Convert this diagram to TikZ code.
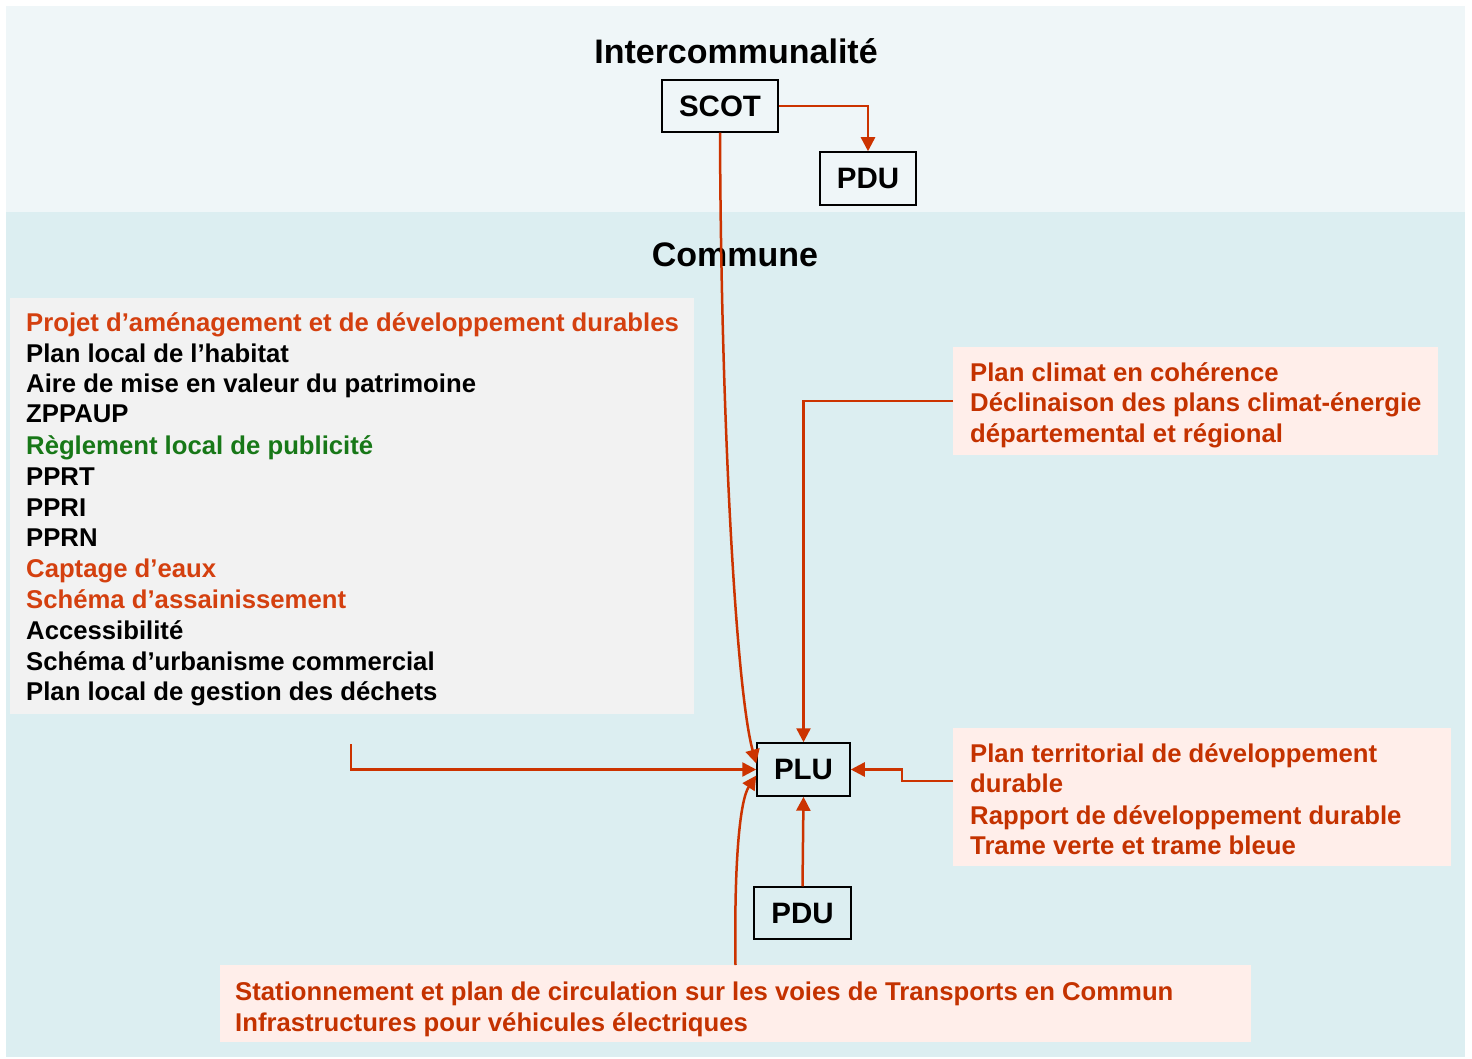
\documentclass[tikz,border=0pt]{standalone}
\usepackage{fontspec}
\setmainfont{Liberation Sans}
\usetikzlibrary{arrows.meta,calc}
\definecolor{bgtop}{HTML}{EFF6F8}
\definecolor{bgcom}{HTML}{DCEEF1}
\definecolor{graybox}{HTML}{F2F2F2}
\definecolor{pinkbox}{HTML}{FFEEEA}
\definecolor{redA}{HTML}{CC3300}
\definecolor{redT}{HTML}{C43200}
\definecolor{orangeT}{HTML}{D4400F}
\definecolor{greenT}{HTML}{187818}
\begin{document}
\begin{tikzpicture}[x=1pt,y=-1pt,
  box/.style={draw=black,line width=1.5pt,inner sep=0pt,font=\fontsize{29.5}{34}\selectfont\bfseries},
  panel/.style={inner sep=0pt,outer sep=0pt},
  conn/.style={draw=redA,line width=2.5pt,-{Triangle[length=14pt,width=14pt]}},
  lst/.style={anchor=base west,inner sep=0pt,font=\fontsize{25.7}{30}\selectfont\bfseries},
  rtxt/.style={anchor=base west,inner sep=0pt,text=redT,font=\fontsize{25.7}{30}\selectfont\bfseries},
  titlet/.style={anchor=base,inner sep=0pt,font=\fontsize{34}{40}\selectfont\bfseries}]
\useasboundingbox (0,0) rectangle (1472,1059);
\fill[white] (0,0) rectangle (1472,1059);
\fill[bgtop] (6,6) rectangle (1465,212);
\fill[bgcom] (6,212) rectangle (1465,1057);

% panels
\node[panel,fill=graybox,minimum width=684pt,minimum height=416pt] (gray) at (352,506) {};
\node[panel,fill=pinkbox,minimum width=485pt,minimum height=108pt] (rb1) at (1195.5,401) {};
\node[panel,fill=pinkbox,minimum width=498pt,minimum height=138pt] (rb2) at (1202,797) {};
\node[panel,fill=pinkbox,minimum width=1031pt,minimum height=77pt] (bot) at (735.5,1003.5) {};

% titles
\node[titlet] (inter) at (736,64) {Intercommunalité};
\node[titlet] (commune) at (735,267) {Commune};

% boxes
\node[box,minimum width=116pt,minimum height=52pt] (scot) at (720,106) {SCOT};
\node[box,minimum width=96pt,minimum height=53pt] (pdu1) at (868,178.5) {PDU};
\node[box,minimum width=93pt,minimum height=53pt] (plu) at (803.5,769.5) {PLU};
\node[box,minimum width=97pt,minimum height=52pt] (pdu2) at (802.5,913) {PDU};

% list text
\node[lst,text=orangeT] (l1) at (26,331) {Projet d’aménagement et de développement durables};
\node[lst] (l2) at (26,362) {Plan local de l’habitat};
\node[lst] (l3) at (26,392) {Aire de mise en valeur du patrimoine};
\node[lst] (l4) at (26,422) {ZPPAUP};
\node[lst,text=greenT] (l5) at (26,454) {Règlement local de publicité};
\node[lst] (l6) at (26,485) {PPRT};
\node[lst] (l7) at (26,516) {PPRI};
\node[lst] (l8) at (26,546) {PPRN};
\node[lst,text=orangeT] (l9) at (26,577) {Captage d’eaux};
\node[lst,text=orangeT] (l10) at (26,608) {Schéma d’assainissement};
\node[lst] (l11) at (26,639) {Accessibilité};
\node[lst] (l12) at (26,670) {Schéma d’urbanisme commercial};
\node[lst] (l13) at (26,700) {Plan local de gestion des déchets};

% right box 1 text
\node[rtxt] (r11) at (970,381) {Plan climat en cohérence};
\node[rtxt] (r12) at (970,411) {Déclinaison des plans climat-énergie};
\node[rtxt] (r13) at (970,442) {départemental et régional};

% right box 2 text
\node[rtxt] (r21) at (970,762) {Plan territorial de développement};
\node[rtxt] (r22) at (970,792) {durable};
\node[rtxt] (r23) at (970,824) {Rapport de développement durable};
\node[rtxt] (r24) at (970,854) {Trame verte et trame bleue};

% bottom text
\node[rtxt] (b1) at (235,1000) {Stationnement et plan de circulation sur les voies de Transports en Commun};
\node[rtxt] (b2) at (235,1031) {Infrastructures pour véhicules électriques};

% connectors
\draw[conn] (scot.east) -| (pdu1.north);
\draw[conn] (rb1.west) -| (plu.north);
\coordinate (rb2a) at ($(rb2.west)+(0,-16)$);
\draw[conn] (rb2a) -- (902,781) |- (plu.east);
\draw[conn] (pdu2.north) -- (plu.south);
\coordinate (lstart) at (351,744);
\draw[conn] (lstart) |- (plu.west);
\coordinate (pluA) at ($(plu.west)+(0,-6)$);
\coordinate (pluB) at ($(plu.west)+(0,6)$);
\draw[conn] (scot.south) .. controls (721,420) and (736,690) .. (pluA);
\draw[conn] (bot.north) .. controls (734,860) and (740,800) .. (pluB);
\end{tikzpicture}
\end{document}
